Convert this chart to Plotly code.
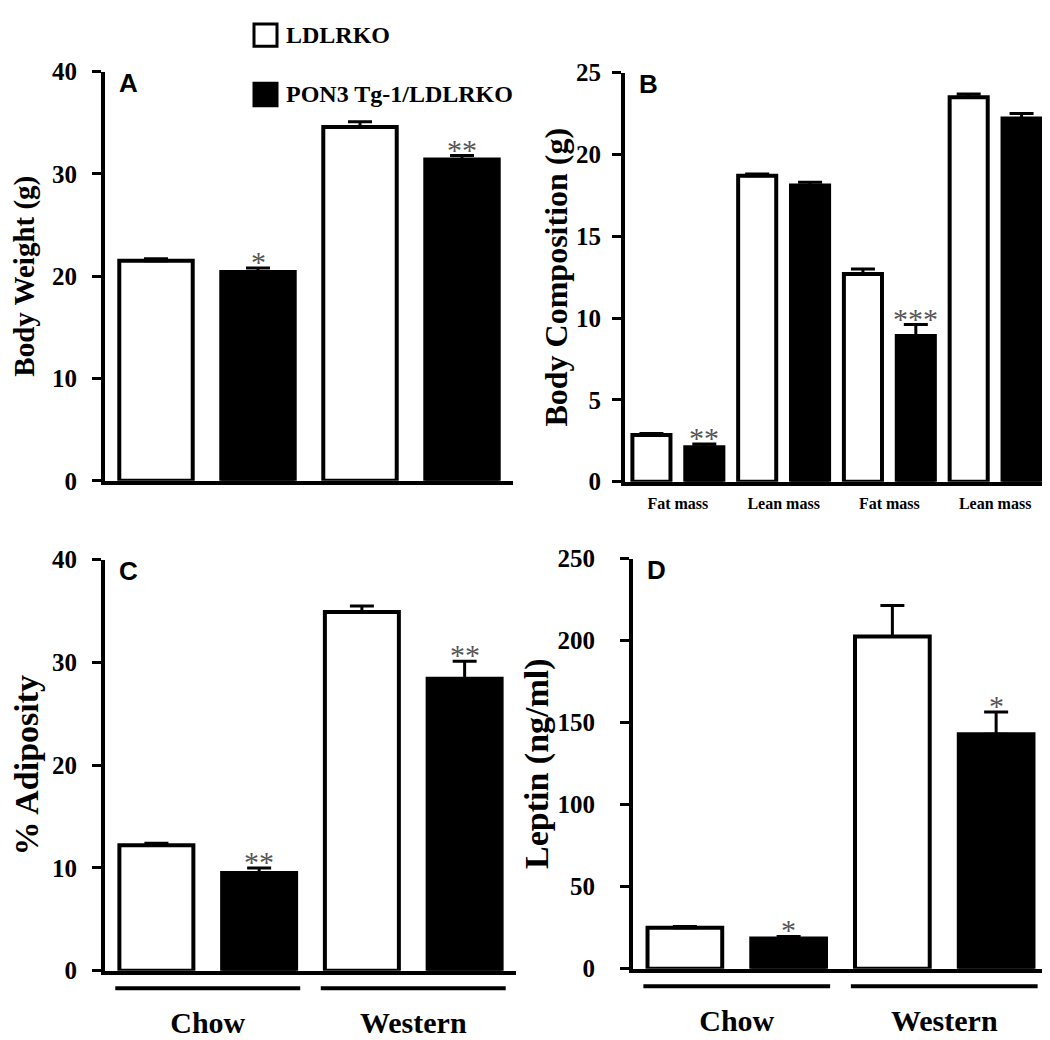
import plotly.graph_objects as go

W_PX, H_PX = 1050, 1040

# ---------------- data ----------------
groups = ["LDLRKO", "PON3 Tg-1/LDLRKO"]
diet = ["Chow", "Western"]

# Panel A: body weight (g)
bw_ldlrko = [21.5, 34.6]
bw_ldlrko_err = [0.2, 0.5]
bw_pon3 = [20.4, 31.4]
bw_pon3_err = [0.4, 0.4]
bw_sig = ["*", "**"]

# Panel B: body composition (g)
comp_ids = ["Fat mass|Chow", "Lean mass|Chow", "Fat mass|Western", "Lean mass|Western"]
comp_labels = ["Fat mass", "Lean mass", "Fat mass", "Lean mass"]
comp_ldlrko = [2.85, 18.7, 12.7, 23.5]
comp_ldlrko_err = [0.1, 0.1, 0.3, 0.2]
comp_pon3 = [2.1, 18.1, 8.9, 22.2]
comp_pon3_err = [0.2, 0.2, 0.7, 0.3]
comp_sig = ["**", "", "***", ""]

# Panel C: % adiposity
adi_ldlrko = [12.2, 34.9]
adi_ldlrko_err = [0.2, 0.6]
adi_pon3 = [9.5, 28.4]
adi_pon3_err = [0.5, 1.7]
adi_sig = ["**", "**"]

# Panel D: leptin (ng/ml)
lep_ldlrko = [25.0, 202.5]
lep_ldlrko_err = [0.8, 19.0]
lep_pon3 = [18.5, 143.0]
lep_pon3_err = [1.2, 13.5]
lep_sig = ["*", "*"]

# ---------------- layout helpers ----------------
def px_x(p):
    return p / W_PX

def px_y(p):
    return 1 - p / H_PX

SERIF = "Liberation Serif"
SANS = "Liberation Sans"

panels = [
    dict(ax="x", ay="y", xd=(97, 505), y0=472, y1=52, ymax=40, dtick=10,
         cats=diet, labels=None, L=bw_ldlrko, Le=bw_ldlrko_err, P=bw_pon3, Pe=bw_pon3_err,
         sig=bw_sig, title="Body Weight (g)", letter="A", tls=10, tso=10, tfs=29),
    dict(ax="x2", ay="y2", xd=(617, 1040), y0=473, y1=53, ymax=25, dtick=5,
         cats=comp_ids, labels=comp_labels, L=comp_ldlrko, Le=comp_ldlrko_err, P=comp_pon3,
         Pe=comp_pon3_err, sig=comp_sig, title="Body Composition (g)", letter="B",
         tls=6, tso=0, tfs=32),
    dict(ax="x3", ay="y3", xd=(97, 508), y0=975, y1=553, ymax=40, dtick=10,
         cats=diet, labels=None, L=adi_ldlrko, Le=adi_ldlrko_err, P=adi_pon3, Pe=adi_pon3_err,
         sig=adi_sig, title="% Adiposity", letter="C", tls=10, tso=10, tfs=34),
    dict(ax="x4", ay="y4", xd=(625, 1040), y0=973, y1=552, ymax=250, dtick=50,
         cats=diet, labels=None, L=lep_ldlrko, Le=lep_ldlrko_err, P=lep_pon3, Pe=lep_pon3_err,
         sig=lep_sig, title="Leptin (ng/ml)", letter="D", tls=20, tso=0, tfs=34),
]

fig = go.Figure()
annotations = []
shapes = []
layout_axes = {}

for i, p in enumerate(panels):
    xa, ya = p["ax"], p["ay"]
    fig.add_trace(go.Bar(
        x=p["cats"], y=p["L"], name=groups[0], xaxis=xa, yaxis=ya,
        marker=dict(color="white", line=dict(color="black", width=4)),
        error_y=dict(type="data", symmetric=False, array=p["Le"],
                     arrayminus=[0] * len(p["Le"]), color="black", thickness=3, width=12),
        showlegend=False,
    ))
    fig.add_trace(go.Bar(
        x=p["cats"], y=p["P"], name=groups[1], xaxis=xa, yaxis=ya,
        marker=dict(color="black", line=dict(color="black", width=4)),
        error_y=dict(type="data", symmetric=False, array=p["Pe"],
                     arrayminus=[0] * len(p["Pe"]), color="black", thickness=3, width=12),
        showlegend=False,
    ))

    xdom = [px_x(p["xd"][0]), px_x(p["xd"][1])]
    ydom = [px_y(p["y0"]), px_y(p["y1"])]
    key_x = "xaxis" + xa[1:]
    key_y = "yaxis" + ya[1:]
    is_diet = p["labels"] is None
    xaxis = dict(
        domain=xdom, anchor=ya, type="category",
        categoryorder="array", categoryarray=p["cats"],
        showline=True, linecolor="black", linewidth=4,
        ticks="", showgrid=False, zeroline=False,
        tickfont=dict(family=SERIF, size=30 if is_diet else 16, color="black", weight="bold"),
    )
    if is_diet:
        if i >= 2:
            xaxis["ticklabelstandoff"] = 22
        else:
            xaxis["showticklabels"] = False
    else:
        xaxis["tickvals"] = p["cats"]
        xaxis["ticktext"] = p["labels"]
        xaxis["ticklabelstandoff"] = 4
    layout_axes[key_x] = xaxis
    layout_axes[key_y] = dict(
        domain=ydom, anchor=xa, range=[0, p["ymax"]], dtick=p["dtick"], tick0=0,
        showline=True, linecolor="black", linewidth=4,
        ticks="outside", ticklen=9, tickwidth=3, tickcolor="black",
        showgrid=False, zeroline=False, ticklabelstandoff=p["tls"],
        tickfont=dict(family=SERIF, size=25, color="black", weight="bold"),
        title=dict(text=p["title"], standoff=p["tso"],
                   font=dict(family=SERIF, size=p["tfs"], color="black", weight="bold")),
    )

    # significance asterisks above the PON3 error bars
    n = len(p["cats"])
    slot_px = (p["xd"][1] - p["xd"][0]) / n / 2
    for c, v, e, s in zip(p["cats"], p["P"], p["Pe"], p["sig"]):
        if s:
            annotations.append(dict(
                x=c, y=v + e, xref=xa, yref=ya, text=s, showarrow=False,
                xshift=slot_px / 2, yanchor="bottom", yshift=-12,
                font=dict(family=SERIF, size=30, color="#555555"),
            ))

    # panel letter
    annotations.append(dict(
        x=px_x(p["xd"][0] + 12), y=px_y(p["y1"] - 6), xref="paper", yref="paper",
        text=p["letter"], showarrow=False, xanchor="left", yanchor="top",
        font=dict(family=SANS, size=26, color="black", weight="bold"),
    ))

    # group underline bars for Chow / Western
    if i >= 2:
        for idx, c in enumerate(p["cats"]):
            shapes.append(dict(
                type="line", xref=xa, yref="paper",
                x0=idx - 0.45, x1=idx + 0.45,
                y0=px_y(p["y0"] + 18), y1=px_y(p["y0"] + 18),
                line=dict(color="black", width=4),
            ))

# legend (drawn manually to match the large legend boxes)
legend_items = [(groups[0], "white", 14), (groups[1], "black", 75)]
for name, color, cy in legend_items:
    shapes.append(dict(
        type="rect", xref="paper", yref="paper",
        x0=px_x(246), x1=px_x(269), y0=px_y(cy + 12), y1=px_y(cy - 11),
        fillcolor=color, line=dict(color="black", width=3),
    ))
    annotations.append(dict(
        x=px_x(276), y=px_y(cy), xref="paper", yref="paper", text=name,
        showarrow=False, xanchor="left", yanchor="middle",
        font=dict(family=SERIF, size=24, color="black", weight="bold"),
    ))

fig.update_layout(
    width=W_PX, height=H_PX,
    margin=dict(l=0, r=0, t=0, b=0),
    paper_bgcolor="white", plot_bgcolor="white",
    barmode="group", bargap=0.0, bargroupgap=0.28,
    showlegend=False,
    annotations=annotations, shapes=shapes,
    **layout_axes,
)

fig.write_html("out.html")
